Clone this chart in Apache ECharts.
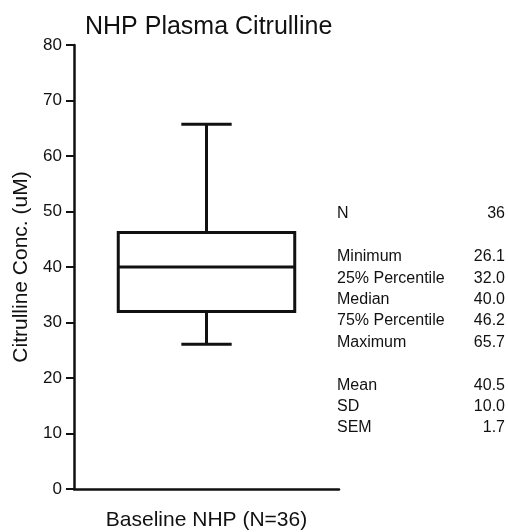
<!DOCTYPE html>
<html>
<head>
<meta charset="utf-8">
<script src="https://cdn.jsdelivr.net/npm/echarts@6/dist/echarts.min.js"></script>
<style>
  html, body { margin: 0; padding: 0; background: #fff; }
  #main { width: 508px; height: 532px; }
</style>
</head>
<body>
<div id="main"></div>
<script>
// data
const categories = ['Baseline NHP (N=36)']
const minimum = [26.1]
const q1 = [32.0]
const median = [40.0]
const q3 = [46.2]
const maximum = [65.7]
const yTicks = [0, 10, 20, 30, 40, 50, 60, 70, 80]

// summary table on the right ('' = blank row)
const statLabels = ['N', '', 'Minimum', '25% Percentile', 'Median', '75% Percentile', 'Maximum', '', 'Mean', 'SD', 'SEM']
const statValues = ['36', '', '26.1', '32.0', '40.0', '46.2', '65.7', '', '40.5', '10.0', '1.7']

const FONT = "'Liberation Sans', Arial, sans-serif"
const INK = '#111'

const main = document.getElementById('main')
const myChart = echarts.init(main)

const boxData = categories.map((c, i) => [i, minimum[i], q1[i], median[i], q3[i], maximum[i]])

// table rows
const statGraphics = []
statLabels.forEach((label, i) => {
    const y = 215 + i * 21.4
    if (label) {
        statGraphics.push({
            type: 'text', left: 337, top: y - 9,
            style: { text: label, font: '16px ' + FONT, fill: INK }
        })
    }
    if (statValues[i]) {
        statGraphics.push({
            type: 'text', right: 3, top: y - 9,
            style: { text: statValues[i], font: '16px ' + FONT, fill: INK, textAlign: 'right' }
        })
    }
})

myChart.setOption({
    animation: false,
    backgroundColor: '#fff',
    title: {
        text: 'NHP Plasma Citrulline',
        left: 80,
        top: 10,
        textStyle: { fontFamily: FONT, fontSize: 25, fontWeight: 'normal', color: INK }
    },
    grid: { left: 74, right: 169, top: 45, bottom: 43 },
    xAxis: {
        type: 'category',
        data: categories,
        axisLine: { lineStyle: { color: INK, width: 2.5 } },
        axisTick: { alignWithLabel: true, length: 8, lineStyle: { color: INK, width: 2 } },
        axisLabel: { margin: 21, fontFamily: FONT, fontSize: 21, color: INK }
    },
    yAxis: {
        type: 'value',
        min: 0,
        max: 80,
        interval: 10,
        name: 'Citrulline Conc. (uM)',
        nameLocation: 'middle',
        nameGap: 42,
        nameTextStyle: { fontFamily: FONT, fontSize: 21, color: INK },
        axisLine: { show: true, lineStyle: { color: INK, width: 2.5 } },
        axisTick: { show: true, length: 8, lineStyle: { color: INK, width: 2 } },
        axisLabel: {
            margin: 12, fontFamily: FONT, fontSize: 17, color: INK,
            formatter: v => (yTicks.indexOf(v) >= 0 ? String(v) : '')
        },
        splitLine: { show: false }
    },
    series: [{
        type: 'custom',
        data: boxData,
        encode: { x: 0, y: [1, 2, 3, 4, 5] },
        renderItem: function (params, api) {
            const x = api.value(0)
            const band = api.size([1, 0])[0]
            const half = band * 0.333
            const capHalf = band * 0.095
            const pMin = api.coord([x, api.value(1)])
            const pQ1 = api.coord([x, api.value(2)])
            const pMed = api.coord([x, api.value(3)])
            const pQ3 = api.coord([x, api.value(4)])
            const pMax = api.coord([x, api.value(5)])
            const cx = pMed[0]
            const st = { stroke: INK, lineWidth: 3, fill: null }
            const line = (x1, y1, x2, y2) => ({ type: 'line', shape: { x1, y1, x2, y2 }, style: st })
            return {
                type: 'group',
                children: [
                    { type: 'rect', shape: { x: cx - half, y: pQ3[1], width: half * 2, height: pQ1[1] - pQ3[1] }, style: st },
                    line(cx - half, pMed[1], cx + half, pMed[1]),
                    line(cx, pQ3[1], cx, pMax[1]),
                    line(cx, pQ1[1], cx, pMin[1]),
                    line(cx - capHalf, pMax[1], cx + capHalf, pMax[1]),
                    line(cx - capHalf, pMin[1], cx + capHalf, pMin[1])
                ]
            }
        }
    }],
    graphic: statGraphics
})
</script>
</body>
</html>
